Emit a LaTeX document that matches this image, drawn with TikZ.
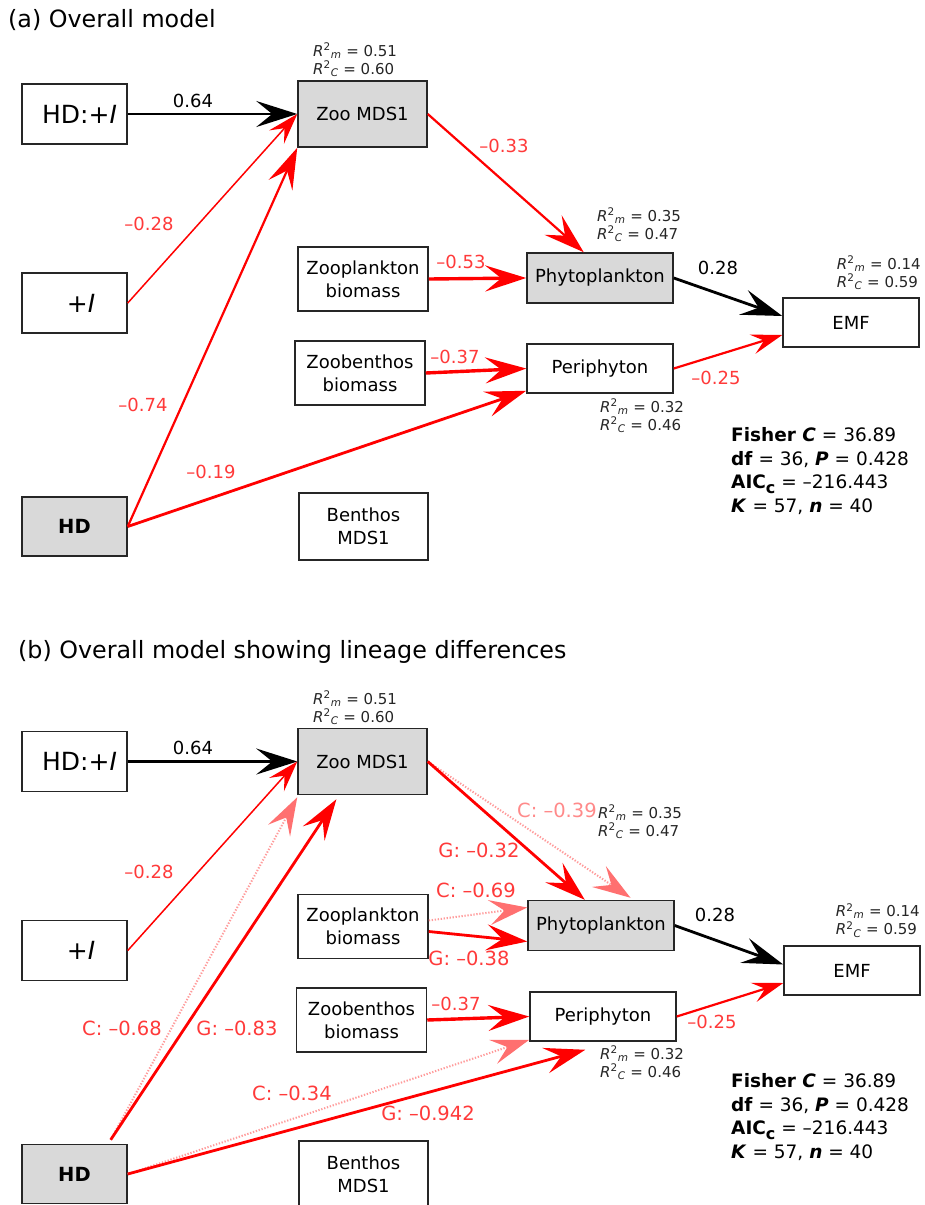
\documentclass[tikz,border=0pt]{standalone}
\usepackage{fontspec}
\setmainfont{DejaVu Sans}
\usetikzlibrary{arrows.meta,calc}
\definecolor{boxgray}{HTML}{D9D9D9}
\definecolor{lred}{HTML}{FF3A3A}
\definecolor{pinklab}{HTML}{FF8A8A}
\definecolor{dotred}{HTML}{FF9A9A}
\definecolor{tippink}{HTML}{FF7070}
\newcommand{\Rm}{\textit{R}\textsuperscript{2}\textsubscript{\textit{m}}}
\newcommand{\Rc}{\textit{R}\textsuperscript{2}\textsubscript{\textit{C}}}
\newcommand{\fishblock}{\textbf{Fisher \textit{C}} = 36.89\\
\textbf{df} = 36, \textbf{\textit{P}} = 0.428\\
\textbf{AIC}\raisebox{-5pt}{\fontsize{16}{16}\selectfont\textbf{c}} = –216.443\\
\textbf{\textit{K}} = 57, \textbf{\textit{n}} = 40}
\begin{document}
\begin{tikzpicture}[x=1pt,y=-1pt,
  box/.style={draw=black!85,line width=1.5pt,inner sep=0pt,align=center,font=\fontsize{18}{23}\selectfont},
  gbox/.style={box,fill=boxgray},
  title/.style={anchor=west,inner sep=0pt,font=\fontsize{23.8}{24}\selectfont},
  lab/.style={inner sep=0pt,font=\fontsize{18}{18}\selectfont},
  rlab/.style={lab,text=lred},
  clab/.style={inner sep=0pt,font=\fontsize{19.5}{19.5}\selectfont,text=lred},
  plab/.style={clab,text=pinklab},
  rsq/.style={anchor=west,inner sep=0pt,align=left,font=\fontsize{15}{18}\selectfont,text=black!85},
  stats/.style={anchor=west,inner sep=0pt,align=left,font=\fontsize{18.5}{23.5}\selectfont},
  blkline/.style={draw=black,line width=2.8pt},
  redthin/.style={draw=red,line width=1.5pt},
  redmid/.style={draw=red,line width=2.2pt},
  redthick/.style={draw=red,line width=2.8pt},
  redthicker/.style={draw=red,line width=3.4pt},
  dotline/.style={draw=dotred,line width=2pt,dash pattern=on 1.3pt off 1.7pt},
  bigtip/.style={-{Stealth[length=41pt,width=26pt,inset=16pt]}},
  smalltip/.style={-{Stealth[length=31pt,width=20pt,inset=12pt]}},
  dottip/.style={-{Stealth[length=38pt,width=25pt,inset=15pt,color=tippink]}}
]
\useasboundingbox (0,0) rectangle (924,1205);
\fill[white] (0,0) rectangle (924,1205);

% ---------------- Panel (a) ----------------
\node[title] (titA) at (8,20) {(a) Overall model};

\node[box,minimum width=105pt,minimum height=60pt,font=\fontsize{25}{25}\selectfont] (hdiA) at (74.5,114) {\hspace*{10pt}HD:+\textit{I}};
\node[gbox,minimum width=129pt,minimum height=66pt] (zooA) at (362.5,114) {Zoo MDS1};
\node[box,minimum width=105pt,minimum height=60pt,font=\fontsize{25}{25}\selectfont] (plusA) at (74.5,303) {\hspace*{13pt}+\textit{I}};
\node[box,minimum width=130pt,minimum height=64pt] (zplA) at (363,279) {Zooplankton\\biomass};
\node[box,minimum width=130pt,minimum height=64pt] (zbeA) at (360,373) {Zoobenthos\\biomass};
\node[gbox,minimum width=146pt,minimum height=50pt] (phyA) at (600,278) {Phytoplankton};
\node[box,minimum width=146pt,minimum height=49pt] (perA) at (600,368.5) {Periphyton};
\node[box,minimum width=136pt,minimum height=49pt] (emfA) at (851,322.5) {EMF};
\node[gbox,minimum width=105pt,minimum height=59pt,font=\fontsize{19.5}{19.5}\selectfont\bfseries] (hdA) at (74.5,526.5) {HD};
\node[box,minimum width=129pt,minimum height=67pt] (benA) at (363.5,526.5) {Benthos\\MDS1};

\node[rsq] (rzA) at (313,60) {\Rm{} = 0.51\\\Rc{} = 0.60};
\node[rsq] (rpA) at (597,225) {\Rm{} = 0.35\\\Rc{} = 0.47};
\node[rsq,anchor=east] (reA) at (921,273) {\Rm{} = 0.14\\\Rc{} = 0.59};
\node[rsq] (rrA) at (600,416) {\Rm{} = 0.32\\\Rc{} = 0.46};
\node[stats] (stA) at (731,471) {\fishblock};

\draw[blkline,bigtip] (hdiA.east) -- (zooA.west);
\draw[redthin,smalltip] (plusA.east) -- (zooA.west);
\draw[redmid,bigtip] (hdA.east) -- (zooA.south west);
\draw[redthick,bigtip] (hdA.east) -- ($(perA.south west)+(0,-3)$);
\draw[redmid,bigtip] (zooA.east) -- ($(phyA.north west)!0.39!(phyA.north east)$);
\draw[redthicker,bigtip] (zplA.east) -- (phyA.west);
\draw[redthicker,bigtip] (zbeA.east) -- (perA.west);
\draw[blkline,bigtip] (phyA.east) -- ($(emfA.west)+(0,-6.5)$);
\draw[redmid,smalltip] (perA.east) -- ($(emfA.west)+(0,12.5)$);

\node[lab] (a064) at (193,101) {0.64};
\node[rlab] (a028) at (149,224) {–0.28};
\node[rlab] (a074) at (143,405) {–0.74};
\node[rlab] (a019) at (211,472) {–0.19};
\node[rlab] (a033) at (504,146) {–0.33};
\node[rlab] (a053) at (461,262) {–0.53};
\node[rlab] (a037) at (455,357) {–0.37};
\node[lab] (a0028) at (718,268) {0.28};
\node[rlab] (a025) at (716,378) {–0.25};

% ---------------- Panel (b) ----------------
\node[title] (titB) at (18,652) {(b) Overall model showing lineage differences};

\node[box,minimum width=105pt,minimum height=60pt,font=\fontsize{25}{25}\selectfont] (hdiB) at (74.5,761.5) {\hspace*{10pt}HD:+\textit{I}};
\node[gbox,minimum width=129pt,minimum height=66pt] (zooB) at (362.5,761.5) {Zoo MDS1};
\node[box,minimum width=105pt,minimum height=60pt,font=\fontsize{25}{25}\selectfont] (plusB) at (74.5,950.5) {\hspace*{13pt}+\textit{I}};
\node[box,minimum width=130pt,minimum height=64pt] (zplB) at (363,926.5) {Zooplankton\\biomass};
\node[box,minimum width=130pt,minimum height=64pt] (zbeB) at (361.5,1020) {Zoobenthos\\biomass};
\node[gbox,minimum width=146pt,minimum height=50pt] (phyB) at (601,925.5) {Phytoplankton};
\node[box,minimum width=146pt,minimum height=49pt] (perB) at (603,1016.5) {Periphyton};
\node[box,minimum width=136pt,minimum height=49pt] (emfB) at (852,970.5) {EMF};
\node[gbox,minimum width=105pt,minimum height=59pt,font=\fontsize{19.5}{19.5}\selectfont\bfseries] (hdB) at (74.5,1174) {HD};
\node[box,minimum width=129pt,minimum height=67pt] (benB) at (363.5,1174.5) {Benthos\\MDS1};

\node[rsq] (rzB) at (313,708) {\Rm{} = 0.51\\\Rc{} = 0.60};
\node[rsq] (rpB) at (598,822) {\Rm{} = 0.35\\\Rc{} = 0.47};
\node[rsq,anchor=east] (reB) at (920,920.5) {\Rm{} = 0.14\\\Rc{} = 0.59};
\node[rsq] (rrB) at (600,1063) {\Rm{} = 0.32\\\Rc{} = 0.46};
\node[stats] (stB) at (731,1117) {\fishblock};

\coordinate (hdtop) at ($(hdB.north west)!0.84!(hdB.north east)+(0,-4)$);
\draw[blkline,bigtip] (hdiB.east) -- (zooB.west);
\draw[redthin,smalltip] (plusB.east) -- (zooB.west);
\draw[dotline,dottip] (hdtop) -- ($(zooB.south west)+(0,2)$);
\draw[redthick,bigtip] (hdtop) -- ($(zooB.south west)!0.3!(zooB.south east)+(0,4)$);
\draw[dotline,dottip] (zooB.east) -- ($(phyB.north west)!0.7!(phyB.north east)+(0,-2)$);
\draw[redthick,bigtip] (zooB.east) -- ($(phyB.north west)!0.39!(phyB.north east)$);
\draw[dotline,dottip] ($(zplB.east)+(0,-6)$) -- ($(phyB.west)+(0,-18)$);
\draw[redthick,bigtip] ($(zplB.east)+(0,5)$) -- ($(phyB.west)+(0,16)$);
\draw[redthicker,bigtip] (zbeB.east) -- (perB.west);
\draw[dotline,dottip] (hdB.east) -- ($(perB.south west)+(0,-2)$);
\draw[redthick,bigtip] (hdB.east) -- ($(perB.south west)!0.38!(perB.south east)+(0,8)$);
\draw[blkline,bigtip] (phyB.east) -- ($(emfB.west)+(0,-6)$);
\draw[redmid,smalltip] (perB.east) -- ($(emfB.west)+(0,12.5)$);

\node[lab] (b064) at (193,748) {0.64};
\node[rlab] (b028) at (149,872) {–0.28};
\node[clab] (bc068) at (122,1028) {C: –0.68};
\node[clab] (bg083) at (237,1028) {G: –0.83};
\node[clab] (bg032) at (479,850) {G: –0.32};
\node[plab] (bc039) at (557,810) {C: –0.39};
\node[clab] (bc069) at (476,890) {C: –0.69};
\node[clab] (bg038) at (469,958) {G: –0.38};
\node[rlab] (b037) at (456,1004) {–0.37};
\node[clab] (bc034) at (292,1093) {C: –0.34};
\node[clab] (bg0942) at (428,1113) {G: –0.942};
\node[lab] (b0028) at (715,915) {0.28};
\node[rlab] (b025) at (712,1022) {–0.25};
\end{tikzpicture}
\end{document}
